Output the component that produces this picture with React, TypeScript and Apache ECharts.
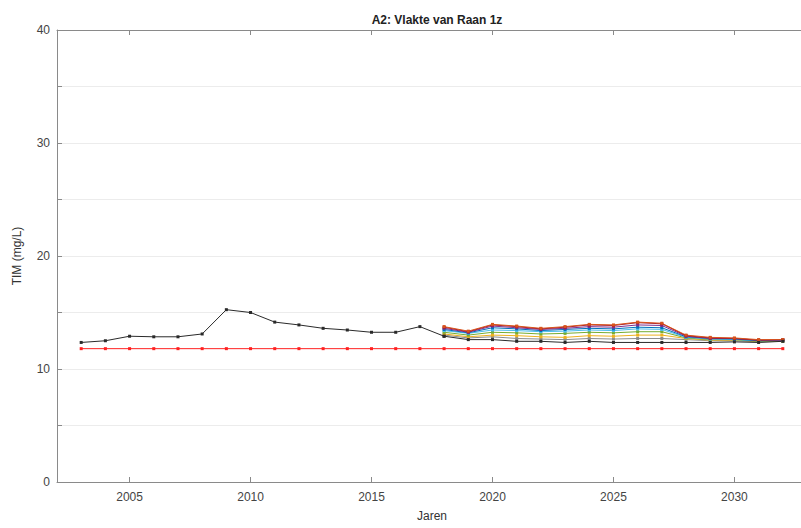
import React, { useEffect, useRef } from "react";
import * as echarts from "echarts";

const title = "A2: Vlakte van Raan 1z";
const xName = "Jaren";
const yName = "TIM (mg/L)";
const xTickValues = [2005, 2010, 2015, 2020, 2025, 2030];

const histYears = [2003, 2004, 2005, 2006, 2007, 2008, 2009, 2010, 2011, 2012, 2013, 2014, 2015, 2016, 2017, 2018];
const histValues = [12.35, 12.5, 12.9, 12.85, 12.85, 13.1, 15.25, 15.0, 14.15, 13.9, 13.6, 13.45, 13.25, 13.25, 13.75, 12.9];

const refYears = [2003, 2004, 2005, 2006, 2007, 2008, 2009, 2010, 2011, 2012, 2013, 2014, 2015, 2016, 2017, 2018, 2019, 2020, 2021, 2022, 2023, 2024, 2025, 2026, 2027, 2028, 2029, 2030, 2031, 2032];
const refValues = [11.8, 11.8, 11.8, 11.8, 11.8, 11.8, 11.8, 11.8, 11.8, 11.8, 11.8, 11.8, 11.8, 11.8, 11.8, 11.8, 11.8, 11.8, 11.8, 11.8, 11.8, 11.8, 11.8, 11.8, 11.8, 11.8, 11.8, 11.8, 11.8, 11.8];

const scenYears = [2018, 2019, 2020, 2021, 2022, 2023, 2024, 2025, 2026, 2027, 2028, 2029, 2030, 2031, 2032];
const scenOrange = [13.75, 13.35, 13.95, 13.8, 13.6, 13.75, 13.95, 13.9, 14.15, 14.05, 13.0, 12.8, 12.75, 12.6, 12.6];
const scenDarkRed = [13.7, 13.3, 13.9, 13.75, 13.55, 13.7, 13.9, 13.85, 14.1, 14.0, 12.95, 12.75, 12.7, 12.55, 12.6];
const scenPurple = [13.6, 13.25, 13.8, 13.65, 13.5, 13.6, 13.75, 13.7, 13.9, 13.85, 12.9, 12.7, 12.7, 12.55, 12.55];
const scenBlue = [13.5, 13.2, 13.65, 13.55, 13.4, 13.5, 13.6, 13.55, 13.7, 13.65, 12.85, 12.7, 12.65, 12.5, 12.55];
const scenCyan = [13.4, 13.15, 13.45, 13.4, 13.3, 13.35, 13.45, 13.4, 13.55, 13.5, 12.8, 12.65, 12.6, 12.5, 12.5];
const scenGreen = [13.25, 13.0, 13.25, 13.2, 13.1, 13.15, 13.25, 13.2, 13.3, 13.3, 12.75, 12.6, 12.6, 12.45, 12.5];
const scenYellow = [13.1, 12.85, 13.0, 12.95, 12.85, 12.8, 12.95, 12.9, 13.0, 13.0, 12.7, 12.55, 12.55, 12.45, 12.45];
const scenGray = [13.0, 12.75, 12.85, 12.7, 12.65, 12.6, 12.7, 12.65, 12.7, 12.7, 12.6, 12.5, 12.5, 12.4, 12.45];
const scenBlack = [12.9, 12.6, 12.6, 12.45, 12.45, 12.35, 12.45, 12.35, 12.35, 12.35, 12.35, 12.35, 12.4, 12.35, 12.45];

const scenarios: { values: number[]; color: string }[] = [
  { values: scenGray, color: "#8c8c8c" },
  { values: scenYellow, color: "#EDB120" },
  { values: scenGreen, color: "#77AC30" },
  { values: scenCyan, color: "#4DBEEE" },
  { values: scenBlue, color: "#0072BD" },
  { values: scenPurple, color: "#7E2F8E" },
  { values: scenDarkRed, color: "#A2142F" },
  { values: scenOrange, color: "#D95319" },
  { values: scenBlack, color: "#2a2a2a" },
];

const pairs = (xs: number[], ys: number[]) => xs.map((x, i) => [x, ys[i]]);

export default function App() {
  const ref = useRef<HTMLDivElement>(null);
  useEffect(() => {
    if (!ref.current) return;
    const chart = echarts.init(ref.current, null, { renderer: "svg" });
    const font = "'Liberation Sans', Arial, sans-serif";
    const axisColor = "#8a8a8a";
    const lineSeries = (data: number[][], color: string, z = 2) => ({
      type: "line",
      data,
      symbol: "rect",
      symbolSize: 3,
      showSymbol: true,
      lineStyle: { color, width: 1 },
      itemStyle: { color },
      z,
      silent: true,
    });
    chart.setOption({
      animation: false,
      backgroundColor: "#ffffff",
      textStyle: { fontFamily: font },
      title: {
        text: title,
        left: 432,
        textAlign: "center",
        top: 9,
        textStyle: { fontSize: 12, fontWeight: "bold", color: "#222", fontFamily: font },
      },
      grid: { left: 57, top: 30, right: 0, bottom: 46, containLabel: false },
      xAxis: [
        {
          type: "value",
          min: 2002,
          max: 2033,
          name: xName,
          nameLocation: "middle",
          nameGap: 28,
          nameTextStyle: { fontSize: 12, color: "#333", fontFamily: font },
          axisLine: { show: true, onZero: false, lineStyle: { color: axisColor, width: 1 } },
          axisTick: { show: true, inside: true, length: 5, customValues: xTickValues, lineStyle: { color: axisColor } },
          axisLabel: {
            customValues: xTickValues,
            fontSize: 12,
            color: "#444",
            margin: 9,
            fontFamily: font,
            formatter: (v: number) => String(v),
          },
          splitLine: { show: false },
        },
        {
          type: "value",
          position: "top",
          min: 2002,
          max: 2033,
          axisLine: { show: true, onZero: false, lineStyle: { color: axisColor, width: 1 } },
          axisTick: { show: true, inside: true, length: 5, customValues: xTickValues, lineStyle: { color: axisColor } },
          axisLabel: { show: false },
          splitLine: { show: false },
        },
      ],
      yAxis: {
        type: "value",
        min: 0,
        max: 40,
        interval: 5,
        name: yName,
        nameLocation: "middle",
        nameGap: 34,
        nameTextStyle: { fontSize: 12, color: "#333", fontFamily: font },
        axisLine: { show: true, onZero: false, lineStyle: { color: axisColor, width: 1 } },
        axisTick: { show: true, inside: true, length: 5, lineStyle: { color: axisColor } },
        axisLabel: {
          fontSize: 12,
          color: "#444",
          margin: 7,
          fontFamily: font,
          formatter: (v: number) => (v % 10 === 0 ? String(v) : ""),
        },
        splitLine: { show: true, lineStyle: { color: "#ececec", width: 1 } },
      },
      series: [
        lineSeries(pairs(refYears, refValues), "#ff2020", 3),
        lineSeries(pairs(histYears, histValues), "#2a2a2a", 3),
        ...scenarios.map((s) => lineSeries(pairs(scenYears, s.values), s.color, 2)),
      ],
    });
    return () => chart.dispose();
  }, []);
  return (
    <div
      style={{ position: "fixed", left: 0, top: 0, width: 801, height: 528, overflow: "hidden", background: "#fff" }}
    >
      <div ref={ref} style={{ width: 807, height: 528 }} />
    </div>
  );
}
